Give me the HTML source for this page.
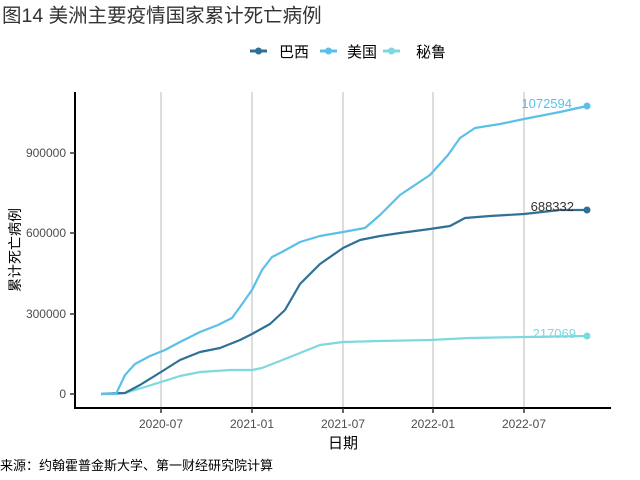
<!DOCTYPE html>
<html><head><meta charset="utf-8"><style>
html,body{margin:0;padding:0;background:#fff;width:640px;height:480px;overflow:hidden}
text{font-family:"Liberation Sans","Noto Sans CJK SC",sans-serif}
</style></head><body>
<svg width="640" height="480" xmlns="http://www.w3.org/2000/svg">
<text x="2" y="22" font-size="19.5" fill="#333">图14 美洲主要疫情国家累计死亡病例</text>
<g font-size="15" fill="#000">
<line x1="250" y1="51" x2="267" y2="51" stroke="#2e7096" stroke-width="3"/><circle cx="258.5" cy="51" r="3.5" fill="#2e7096"/><text x="279" y="57">巴西</text>
<line x1="320" y1="51" x2="337" y2="51" stroke="#5bc0e8" stroke-width="3"/><circle cx="328.5" cy="51" r="3.5" fill="#5bc0e8"/><text x="347" y="57">美国</text>
<line x1="383" y1="51" x2="400" y2="51" stroke="#7dd8e0" stroke-width="3"/><circle cx="391.5" cy="51" r="3.5" fill="#7dd8e0"/><text x="416" y="57">秘鲁</text>
</g>
<g stroke="#bbb" stroke-width="1">
<line x1="161" y1="92" x2="161" y2="408"/><line x1="252" y1="92" x2="252" y2="408"/><line x1="343" y1="92" x2="343" y2="408"/><line x1="433" y1="92" x2="433" y2="408"/><line x1="524" y1="92" x2="524" y2="408"/>
</g>
<g fill="none" stroke-width="2.2" stroke-linejoin="round">
<polyline stroke="#7dd8e0" points="101,394 125,393 145,387 161,382 180,376 200,372 230,370 252,370 262,368 280,361 300,353 320,345 343,342 380,341 430,340 470,338 524,337 587,336"/>
<polyline stroke="#2e7096" points="101,394 125,393 140,385 161,372 180,360 200,352 220,348 240,340 252,334 270,324 285,310 300,284 320,264 343,248 360,240 380,236 400,233 430,229 450,226 465,218 490,216 524,214 560,210 587,210"/>
<polyline stroke="#5bc0e8" points="101,394 116,394 125,375 135,364 150,356 165,350 180,342 200,332 218,325 232,318 240,307 252,290 262,270 272,257 282,252 300,242 320,236 343,232 365,228 380,215 400,195 430,175 448,155 460,138 475,128 500,124 524,119 560,112 587,106"/>
</g>
<circle cx="587" cy="106" r="3.5" fill="#5bc0e8"/><circle cx="587" cy="210" r="3.5" fill="#2e7096"/><circle cx="587" cy="336" r="3.5" fill="#7dd8e0"/>
<g font-size="13" text-anchor="end">
<text x="572" y="108" fill="#5bc0e8">1072594</text>
<text x="574" y="211" fill="#333">688332</text>
<text x="576" y="338" fill="#7dd8e0">217069</text>
</g>
<g stroke="#000" stroke-width="2"><line x1="75" y1="92" x2="75" y2="409"/><line x1="74" y1="408" x2="611" y2="408"/></g>
<g stroke="#333" stroke-width="1.5"><line x1="70" y1="394" x2="75" y2="394"/><line x1="70" y1="314" x2="75" y2="314"/><line x1="70" y1="233" x2="75" y2="233"/><line x1="70" y1="153" x2="75" y2="153"/>
<line x1="161" y1="408" x2="161" y2="413"/><line x1="252" y1="408" x2="252" y2="413"/><line x1="343" y1="408" x2="343" y2="413"/><line x1="433" y1="408" x2="433" y2="413"/><line x1="524" y1="408" x2="524" y2="413"/></g>
<g font-size="12" fill="#4d4d4d" text-anchor="end">
<text x="66" y="398">0</text><text x="66" y="318">300000</text><text x="66" y="237">600000</text><text x="66" y="157">900000</text>
</g>
<g font-size="12" fill="#4d4d4d" text-anchor="middle">
<text x="161" y="428">2020-07</text><text x="252" y="428">2021-01</text><text x="343" y="428">2021-07</text><text x="433" y="428">2022-01</text><text x="524" y="428">2022-07</text>
</g>
<text x="343" y="448" font-size="15" text-anchor="middle" fill="#000">日期</text>
<text transform="translate(20,250) rotate(-90)" font-size="14" text-anchor="middle" fill="#000">累计死亡病例</text>
<text x="0" y="470" font-size="13" fill="#000">来源：约翰霍普金斯大学、第一财经研究院计算</text>
</svg>
</body></html>
